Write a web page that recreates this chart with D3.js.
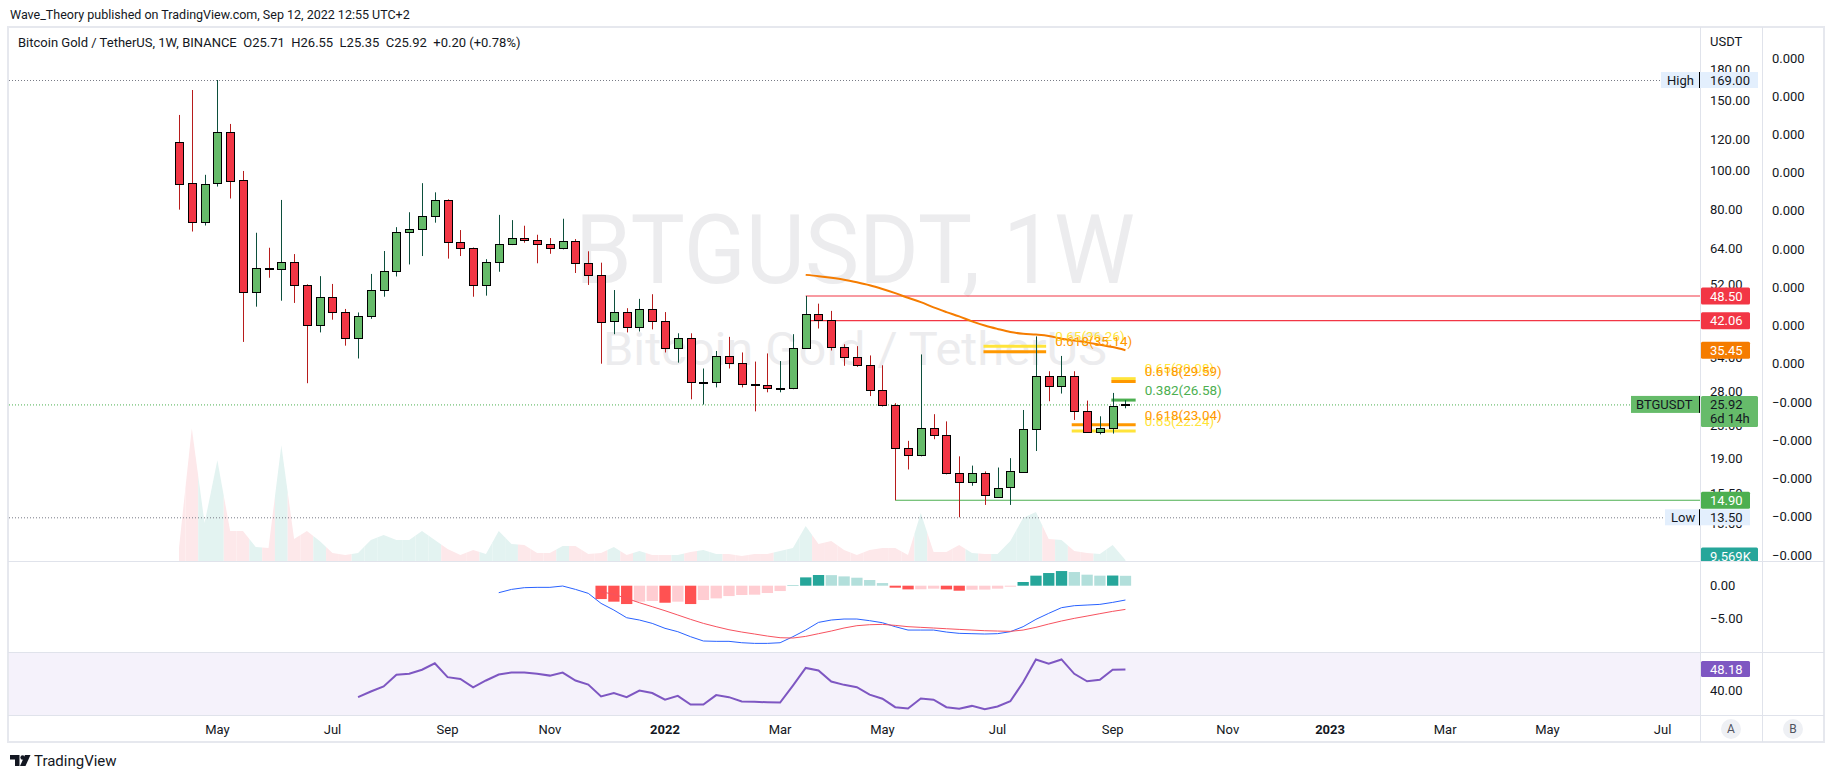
<!DOCTYPE html>
<html>
<head>
<meta charset="utf-8">
<script src="https://cdn.jsdelivr.net/npm/d3@7"></script>
<style>
  body { margin: 0; background: #fff; }
  svg { display: block; font-family: Roboto, "Liberation Sans", sans-serif; }
  text { white-space: pre; }
</style>
</head>
<body>
<svg id="chart"></svg>
<script>
// weekly BTG/USDT candles, first bar = week of 12 Apr 2021
const opens  = [117.9, 93.0, 74.3, 93.1, 124.9, 94.7, 49.5, 57.0, 56.7, 59.0, 51.6, 40.8, 48.1, 44.3, 38.0, 43.1, 50.0, 55.9, 70.2, 71.4,
                76.9, 84.3, 66.2, 64.0, 51.6, 59.0, 65.4, 67.8, 67.0, 65.4, 64.0, 66.6, 58.8, 54.9, 41.9, 44.1, 40.5, 44.9, 41.9, 35.9,
                38.0, 29.5, 29.5, 34.2, 32.9, 29.2, 29.0, 28.5, 28.5, 35.9, 43.6, 42.2, 36.1, 34.0, 32.5, 28.1, 25.8, 20.1, 19.3, 22.6,
                21.7, 17.4, 16.5, 17.4, 15.2, 16.0, 17.6, 22.5, 30.5, 28.8, 30.5, 24.9, 22.1, 22.6, 25.71]
const highs  = [138.1, 159.5, 97.7, 169.0, 131.1, 99.9, 69.9, 64.1, 84.5, 61.8, 51.9, 54.4, 52.0, 45.0, 44.1, 55.1, 62.9, 72.2, 78.7, 93.1,
                88.3, 84.8, 71.0, 64.2, 60.0, 77.5, 75.2, 72.8, 69.1, 67.8, 75.8, 67.4, 62.8, 58.8, 50.2, 45.2, 47.7, 49.0, 44.2, 39.1,
                39.1, 31.9, 35.3, 38.3, 35.0, 33.2, 34.8, 33.3, 38.9, 48.5, 46.4, 44.5, 36.7, 36.3, 34.4, 32.5, 26.1, 21.0, 34.6, 24.5,
                23.5, 19.2, 18.2, 17.6, 18.0, 19.0, 25.1, 38.4, 31.4, 34.3, 31.4, 26.5, 24.2, 27.7, 26.55]
const lows   = [79.9, 70.4, 72.9, 91.3, 85.2, 37.2, 45.6, 53.9, 47.2, 46.6, 29.3, 39.3, 42.3, 36.4, 33.8, 42.5, 48.3, 54.3, 58.2, 61.1,
                74.1, 60.2, 61.1, 48.3, 48.6, 55.8, 65.1, 66.0, 58.6, 61.9, 63.5, 55.4, 51.7, 32.8, 38.9, 39.3, 39.5, 40.0, 35.0, 33.0,
                26.7, 25.9, 28.6, 31.9, 28.6, 24.9, 27.8, 27.8, 28.3, 35.8, 40.2, 35.4, 32.4, 32.2, 27.2, 25.6, 14.9, 17.8, 19.2, 21.2,
                17.3, 13.5, 16.2, 14.5, 15.1, 14.5, 17.5, 19.8, 26.4, 27.6, 23.7, 22.0, 21.8, 21.9, 25.35]
const closes = [92.6, 74.3, 92.6, 124.9, 94.2, 49.5, 57.0, 56.7, 59.0, 51.6, 41.0, 48.1, 44.1, 38.2, 43.1, 50.1, 55.9, 70.2, 71.4, 76.9,
                84.3, 66.2, 64.0, 51.6, 59.0, 65.4, 67.8, 67.0, 65.4, 64.0, 66.6, 58.8, 54.9, 41.9, 44.1, 40.5, 44.9, 41.9, 35.9, 38.0,
                29.5, 29.55, 34.2, 32.9, 29.2, 29.1, 28.5, 28.55, 35.9, 43.6, 42.2, 36.1, 34.0, 32.5, 28.1, 25.8, 20.1, 19.3, 22.6, 21.7,
                17.4, 16.5, 17.4, 15.3, 16.0, 17.6, 22.5, 30.5, 28.8, 30.5, 24.9, 22.1, 22.6, 25.71, 25.92]
// volume in thousands
const volumes = [124, 1264, 361, 960, 285, 285, 133, 124, 1102, 209, 285, 190, 76, 57, 76, 200, 247, 200, 200, 285,
                 200, 114, 57, 105, 67, 285, 162, 152, 76, 76, 143, 143, 67, 76, 133, 57, 95, 57, 57, 57,
                 86, 105, 67, 67, 48, 67, 67, 95, 124, 333, 162, 190, 105, 57, 105, 124, 124, 57, 456, 86,
                 86, 152, 76, 67, 67, 190, 409, 466, 209, 200, 95, 76, 67, 152, 9.569]

// 50 week moving average, from bar 49
const maStart = 49
const maValues = [54.8, 54.4, 53.9, 53.3, 52.5, 51.6, 50.5, 49.3, 48.0, 46.8, 45.4, 44.2, 43.1, 41.9, 40.9, 40.1, 39.4, 39.0, 38.8, 38.5,
                  37.9, 37.5, 37.1, 36.6, 36.1, 35.45]

// MACD
const macdStart = 25
const macdLine = [-1.06, -0.56, -0.30, -0.25, -0.25, -0.05, -0.56, -1.16, -2.68, -3.69, -4.85, -5.20, -5.71, -6.46, -6.97, -7.73, -8.38,
                  -8.43, -8.43, -8.64, -8.74, -8.74, -8.64, -7.73, -6.72, -5.56, -5.20, -5.05, -5.05, -5.30, -5.61, -6.21, -6.72, -6.72,
                  -6.72, -7.02, -7.22, -7.27, -7.32, -7.27, -6.97, -6.21, -5.10, -4.19, -3.33, -3.03, -2.93, -2.83, -2.53, -2.17]
const signalStart = 33
const signalLine = [-0.91, -1.31, -1.92, -2.58, -3.18, -3.79, -4.44, -5.10, -5.71, -6.21, -6.67, -7.02, -7.32, -7.63, -7.88, -7.93,
                    -7.68, -7.27, -6.87, -6.41, -6.06, -5.91, -5.86, -6.01, -6.21, -6.31, -6.41, -6.52, -6.62, -6.72, -6.82, -6.87,
                    -6.92, -6.72, -6.31, -5.81, -5.35, -4.95, -4.60, -4.24, -3.89, -3.59]
const histogram = [-2.02, -2.42, -2.78, -2.42, -2.32, -2.58, -2.42, -2.78, -2.17, -1.92, -1.57, -1.41, -1.36, -1.11, -0.81, 0.05,
                   1.26, 1.62, 1.60, 1.41, 1.21, 0.86, 0.40, -0.30, -0.56, -0.54, -0.45, -0.56, -0.76, -0.61, -0.59, -0.45, -0.15,
                   0.56, 1.52, 1.92, 2.22, 2.07, 1.67, 1.52, 1.54, 1.50]

// RSI 14
const rsiStart = 14
const rsiValues = [37.4, 39.6, 41.6, 46.1, 46.5, 48.1, 50.6, 45.2, 44.5, 41.2, 43.9, 46.2, 47.0, 47.0, 46.5, 45.8, 47.0, 43.9, 42.3,
                   37.7, 39.0, 37.4, 40.0, 39.0, 36.4, 37.9, 34.5, 34.5, 38.2, 37.4, 35.7, 35.6, 35.4, 35.3, 41.9, 48.8, 47.8, 43.5,
                   42.2, 41.3, 38.4, 36.8, 33.5, 33.0, 36.9, 36.4, 33.5, 32.9, 34.0, 32.7, 33.8, 35.8, 43.2, 52.1, 50.4, 52.1, 46.5,
                   43.6, 44.2, 48.1, 48.18]

// fib retracement levels drawn on the chart (bar index span)
const fibLevels = [
    { ratio: "0.65",  price: 36.26, from: 62.9, to: 67.8, kind: "y" },
    { ratio: "0.618", price: 35.14, from: 62.9, to: 67.8, kind: "o" },
    { ratio: "0.65",  price: 30.08, from: 72.9, to: 74.8, kind: "y" },
    { ratio: "0.618", price: 29.59, from: 72.9, to: 74.8, kind: "o" },
    { ratio: "0.382", price: 26.58, from: 72.9, to: 74.8, kind: "g" },
    { ratio: "0.65",  price: 22.24, from: 69.8, to: 74.8, kind: "y" },
    { ratio: "0.618", price: 23.04, from: 69.8, to: 74.8, kind: "o" }
]
const resistance = [48.50, 42.06]
const resistanceFrom = 49
const support = 14.90
const supportFrom = 56

const priceTicks = [180, 150, 120, 100, 80, 64, 52, 42, 34, 28, 23, 19, 15.5, 13]
const extraAxisTicks = ["0.000", "0.000", "0.000", "0.000", "0.000", "0.000", "0.000", "0.000", "0.000",
                        "\u22120.000", "\u22120.000", "\u22120.000", "\u22120.000", "\u22120.000"]
const macdTicks = [0, -5]
const rsiTicks = [40]
const timeTicks = [["2021-05-03", "May"], ["2021-07-05", "Jul"], ["2021-09-06", "Sep"], ["2021-11-01", "Nov"],
                   ["2022-01-03", "2022"], ["2022-03-07", "Mar"], ["2022-05-02", "May"], ["2022-07-04", "Jul"],
                   ["2022-09-05", "Sep"], ["2022-11-07", "Nov"], ["2023-01-02", "2023"], ["2023-03-06", "Mar"],
                   ["2023-05-01", "May"], ["2023-07-03", "Jul"]]

const W = 1834, H = 778
const paneL = 9, paneR = 1700, axisR = 1762, frameR = 1824
const paneTop = 27, mainB = 561, macdB = 652, rsiB = 715, paneBottom = 742
const txt = "#131722", grid = "#e0e3eb"

const svg = d3.select("#chart").attr("width", W).attr("height", H)

const week = 7 * 864e5
const t0 = Date.UTC(2021, 3, 12)
const dates = opens.map((d, i) => new Date(t0 + i * week))

const x = d3.scaleUtc()
    .domain([new Date(t0), new Date(Date.UTC(2023, 6, 3))])
    .range([179, 1662.6])
const xi = i => x(new Date(t0 + i * week))

const y = d3.scaleLog().domain([169, 13.5]).range([80, 517.3])
const yVol = d3.scaleLinear().domain([0, 1400]).range([mainB, mainB - 147])
const yMacd = d3.scaleLinear().domain([0, -5]).range([585.7, 618.7])
const yRsi = d3.scaleLinear().domain([48.18, 40]).range([669.5, 690.5])
const yExtra = d3.scaleLinear().domain([0, 13]).range([58, 555])

// header
svg.append("text").attr("x", 10).attr("y", 19).attr("font-size", 12.5).attr("fill", txt)
    .text("Wave_Theory published on TradingView.com, Sep 12, 2022 12:55 UTC+2")

// frame + separators
svg.append("rect").attr("x", 8).attr("y", paneTop).attr("width", frameR - 8).attr("height", paneBottom - paneTop)
    .attr("fill", "none").attr("stroke", "#e6e8ee").attr("stroke-width", 2)
svg.append("rect").attr("x", paneL).attr("y", macdB).attr("width", paneR - paneL).attr("height", rsiB - macdB)
    .attr("fill", "#f5f2fb")
;[mainB, macdB, rsiB].forEach(v => {
    svg.append("line").attr("x1", 8).attr("x2", frameR).attr("y1", v + 0.5).attr("y2", v + 0.5)
        .attr("stroke", grid)
})
;[paneR, axisR].forEach(v => {
    svg.append("line").attr("x1", v + 0.5).attr("x2", v + 0.5).attr("y1", paneTop).attr("y2", paneBottom)
        .attr("stroke", grid)
})

svg.append("text").attr("x", 18).attr("y", 47).attr("font-size", 13).attr("fill", txt)
    .text("Bitcoin Gold / TetherUS, 1W, BINANCE  O25.71  H26.55  L25.35  C25.92  +0.20 (+0.78%)")

// main pane
svg.append("defs").append("clipPath").attr("id", "mainClip")
    .append("rect").attr("x", paneL).attr("y", paneTop + 1).attr("width", paneR - paneL).attr("height", mainB - paneTop - 1)
const main = svg.append("g").attr("clip-path", "url(#mainClip)")

// watermark
main.append("text").attr("x", 855).attr("y", 283).attr("text-anchor", "middle")
    .attr("font-size", 97).attr("fill", "#ececee").attr("textLength", 560).attr("lengthAdjust", "spacingAndGlyphs")
    .text("BTGUSDT, 1W")
main.append("text").attr("x", 855).attr("y", 365).attr("text-anchor", "middle")
    .attr("font-size", 46).attr("fill", "#ececee").attr("textLength", 504).attr("lengthAdjust", "spacingAndGlyphs")
    .text("Bitcoin Gold / TetherUS")

// volume as coloured area pieces
const isUp = i => closes[i] >= opens[i]
volumes.forEach((v, i) => {
    const last = volumes.length - 1
    const xl = i === 0 ? xi(0) : (xi(i - 1) + xi(i)) / 2
    const xr = i === last ? xi(i) : (xi(i) + xi(i + 1)) / 2
    const vl = i === 0 ? v : (volumes[i - 1] + v) / 2
    const vr = i === last ? v : (volumes[i + 1] + v) / 2
    main.append("path")
        .attr("d", `M${xl},${mainB}L${xl},${yVol(vl)}L${xi(i)},${yVol(v)}L${xr},${yVol(vr)}L${xr},${mainB}Z`)
        .attr("fill", isUp(i) ? "#e3f3f1" : "#fde8ea")
})

// high / low / last price lines
main.append("line").attr("x1", paneL).attr("x2", 1661).attr("y1", y(169) + 0.5).attr("y2", y(169) + 0.5)
    .attr("stroke", "#787b86").attr("stroke-dasharray", "1,2")
main.append("line").attr("x1", paneL).attr("x2", 1665).attr("y1", y(13.5) + 0.5).attr("y2", y(13.5) + 0.5)
    .attr("stroke", "#787b86").attr("stroke-dasharray", "1,2")
main.append("line").attr("x1", paneL).attr("x2", 1631).attr("y1", y(25.92) + 0.5).attr("y2", y(25.92) + 0.5)
    .attr("stroke", "#4caf50").attr("stroke-dasharray", "1,2")

resistance.forEach(p => {
    main.append("line").attr("x1", xi(resistanceFrom)).attr("x2", paneR).attr("y1", y(p)).attr("y2", y(p))
        .attr("stroke", "#f23645").attr("stroke-width", 1.2)
})
main.append("line").attr("x1", xi(supportFrom)).attr("x2", paneR).attr("y1", y(support)).attr("y2", y(support))
    .attr("stroke", "#4caf50").attr("stroke-width", 1.2)

// fib lines
const fibColor = { y: "#ffe43b", o: "#ff9800", g: "#4caf50" }
main.append("g").selectAll("line")
    .data(fibLevels)
    .join("line")
    .attr("x1", d => xi(d.from)).attr("x2", d => xi(d.to))
    .attr("y1", d => y(d.price)).attr("y2", d => y(d.price))
    .attr("stroke", d => fibColor[d.kind]).attr("stroke-width", 3)

// candles
const candles = main.append("g").selectAll("g").data(dates).join("g")
candles.append("line")
    .attr("x1", (d, i) => Math.round(xi(i)) + 0.5)
    .attr("x2", (d, i) => Math.round(xi(i)) + 0.5)
    .attr("y1", (d, i) => y(highs[i]))
    .attr("y2", (d, i) => y(lows[i]))
    .attr("stroke", (d, i) => isUp(i) ? "#0c4f3c" : "#b71c1c")
candles.append("rect")
    .attr("x", (d, i) => Math.round(xi(i)) - 3.5)
    .attr("y", (d, i) => Math.round(y(Math.max(opens[i], closes[i]))) + 0.5)
    .attr("width", 8)
    .attr("height", (d, i) => Math.max(1, Math.round(Math.abs(y(opens[i]) - y(closes[i])))))
    .attr("fill", (d, i) => isUp(i) ? "#66bb6a" : "#f23645")
    .attr("stroke", "#000")

// moving average
main.append("path")
    .datum(maValues)
    .attr("d", d3.line().x((d, k) => xi(maStart + k)).y(d => y(d)).curve(d3.curveMonotoneX))
    .attr("fill", "none").attr("stroke", "#f57c00").attr("stroke-width", 2)

// fib labels, yellow below orange
const fibOrder = fibLevels.filter(d => d.kind === "y").concat(fibLevels.filter(d => d.kind !== "y"))
main.append("g").selectAll("text")
    .data(fibOrder)
    .join("text")
    .attr("x", d => xi(d.to) + 9)
    .attr("y", d => y(d.price) - 10)
    .attr("dy", "0.35em")
    .attr("font-size", 13.5)
    .attr("fill", d => fibColor[d.kind])
    .text(d => `${d.ratio}(${d.price.toFixed(2)})`)

// MACD pane
const hColor = histogram.map((h, k) => {
    const prev = k === 0 ? h : histogram[k - 1]
    if (h >= 0) return h >= prev ? "#26a69a" : "#b2dfdb"
    return h <= prev ? "#ff5252" : "#ffcdd2"
})
svg.append("g").selectAll("rect")
    .data(histogram)
    .join("rect")
    .attr("x", (d, k) => xi(signalStart + k) - 5.6)
    .attr("width", 11.3)
    .attr("y", d => Math.min(yMacd(d), yMacd(0)))
    .attr("height", d => Math.abs(yMacd(d) - yMacd(0)))
    .attr("fill", (d, k) => hColor[k])
svg.append("path").datum(macdLine)
    .attr("d", d3.line().x((d, k) => xi(macdStart + k)).y(d => yMacd(d)))
    .attr("fill", "none").attr("stroke", "#2962ff").attr("stroke-width", 1)
svg.append("path").datum(signalLine)
    .attr("d", d3.line().x((d, k) => xi(signalStart + k)).y(d => yMacd(d)))
    .attr("fill", "none").attr("stroke", "#f7525f").attr("stroke-width", 1)

// RSI pane
svg.append("path").datum(rsiValues)
    .attr("d", d3.line().x((d, k) => xi(rsiStart + k)).y(d => yRsi(d)))
    .attr("fill", "none").attr("stroke", "#7e57c2").attr("stroke-width", 2)

// price axis
const axisG = svg.append("g").attr("font-size", 13).attr("fill", txt)
axisG.append("text").attr("x", 1710).attr("y", 41).attr("dy", "0.35em").text("USDT")
axisG.selectAll(".pt").data(priceTicks).join("text").attr("class", "pt")
    .attr("x", 1710).attr("y", d => y(d)).attr("dy", "0.35em").text(d => d.toFixed(2))
axisG.selectAll(".et").data(extraAxisTicks).join("text").attr("class", "et")
    .attr("x", 1772).attr("y", (d, k) => yExtra(k)).attr("dy", "0.35em").text(d => d)
axisG.selectAll(".mt").data(macdTicks).join("text").attr("class", "mt")
    .attr("x", 1710).attr("y", d => yMacd(d)).attr("dy", "0.35em").text(d => d.toFixed(2).replace("-", "\u2212"))
axisG.selectAll(".rt").data(rsiTicks).join("text").attr("class", "rt")
    .attr("x", 1710).attr("y", d => yRsi(d)).attr("dy", "0.35em").text(d => d.toFixed(2))

function tag(yc, w, h, bg, fg, lines, x0 = paneR + 1) {
    const g = svg.append("g")
    g.append("rect").attr("x", x0).attr("y", yc - 8.5).attr("width", w).attr("height", h).attr("rx", 1.5).attr("fill", bg)
    lines.forEach((s, k) => {
        g.append("text").attr("x", x0 + 9).attr("y", yc + k * 14).attr("dy", "0.35em")
            .attr("font-size", 13).attr("fill", fg).text(s)
    })
    return g
}

// high / low markers
svg.append("rect").attr("x", 1661).attr("y", y(169) - 8).attr("width", 97).attr("height", 16).attr("fill", "#e3effd")
svg.append("text").attr("x", 1667).attr("y", y(169)).attr("dy", "0.35em").attr("font-size", 13).attr("fill", txt).text("High")
svg.append("line").attr("x1", 1699.5).attr("x2", 1699.5).attr("y1", y(169) - 8).attr("y2", y(169) + 8).attr("stroke", "#000")
svg.append("text").attr("x", 1710).attr("y", y(169)).attr("dy", "0.35em").attr("font-size", 13).attr("fill", txt).text("169.00")

svg.append("rect").attr("x", 1665).attr("y", y(13.5) - 8).attr("width", 85).attr("height", 16).attr("fill", "#e3effd")
svg.append("text").attr("x", 1671).attr("y", y(13.5)).attr("dy", "0.35em").attr("font-size", 13).attr("fill", txt).text("Low")
svg.append("line").attr("x1", 1699.5).attr("x2", 1699.5).attr("y1", y(13.5) - 8).attr("y2", y(13.5) + 8).attr("stroke", "#000")
svg.append("text").attr("x", 1710).attr("y", y(13.5)).attr("dy", "0.35em").attr("font-size", 13).attr("fill", txt).text("13.50")

resistance.forEach(p => tag(y(p), 49, 17, "#f23645", "#fff", [p.toFixed(2)]))
tag(y(maValues[maValues.length - 1]), 49, 17, "#f57c00", "#fff", ["35.45"])
tag(y(support), 49, 17, "#4caf50", "#fff", [support.toFixed(2)])

// last price
svg.append("rect").attr("x", 1631).attr("y", y(25.92) - 8.5).attr("width", 68).attr("height", 17).attr("fill", "#66bb6a")
svg.append("text").attr("x", 1636).attr("y", y(25.92)).attr("dy", "0.35em").attr("font-size", 13).attr("fill", txt).text("BTGUSDT")
svg.append("line").attr("x1", 1699.5).attr("x2", 1699.5).attr("y1", y(25.92) - 8.5).attr("y2", y(25.92) + 8.5).attr("stroke", "#000")
tag(y(25.92), 57, 31, "#66bb6a", txt, ["25.92", "6d 14h"])

tag(yRsi(48.18), 49, 16, "#7e57c2", "#fff", ["48.18"])

// volume value tag, cut by pane edge
svg.append("clipPath").attr("id", "volTag")
    .append("rect").attr("x", paneR).attr("y", paneTop).attr("width", 70).attr("height", mainB - paneTop)
tag(yVol(9.569) - 4, 57, 17, "#26a69a", "#fff", ["9.569K"]).attr("clip-path", "url(#volTag)")

// time axis
const parse = d3.utcParse("%Y-%m-%d")
svg.append("g").selectAll("text")
    .data(timeTicks)
    .join("text")
    .attr("x", d => x(parse(d[0])))
    .attr("y", 729)
    .attr("dy", "0.35em")
    .attr("text-anchor", "middle")
    .attr("font-size", 13)
    .attr("font-weight", d => /^\d+$/.test(d[1]) ? 700 : 400)
    .attr("fill", txt)
    .text(d => d[1])

;[["A", 1731], ["B", 1793]].forEach(([s, cx]) => {
    svg.append("circle").attr("cx", cx).attr("cy", 729).attr("r", 10).attr("fill", "#eef0f4")
    svg.append("text").attr("x", cx).attr("y", 729).attr("dy", "0.35em").attr("text-anchor", "middle")
        .attr("font-size", 12).attr("fill", "#50535e").text(s)
})

// logo
const logo = svg.append("g").attr("fill", txt)
logo.append("path").attr("d", "M10 755h9.5v11h-4.5v-6.5h-5z")
logo.append("circle").attr("cx", 22.6).attr("cy", 757.5).attr("r", 2.2)
logo.append("path").attr("d", "M25 755h5.5l-5 11h-5.5z")
svg.append("text").attr("x", 34).attr("y", 766).attr("font-size", 15).attr("fill", txt)
    .text("TradingView")
</script>
</body>
</html>
